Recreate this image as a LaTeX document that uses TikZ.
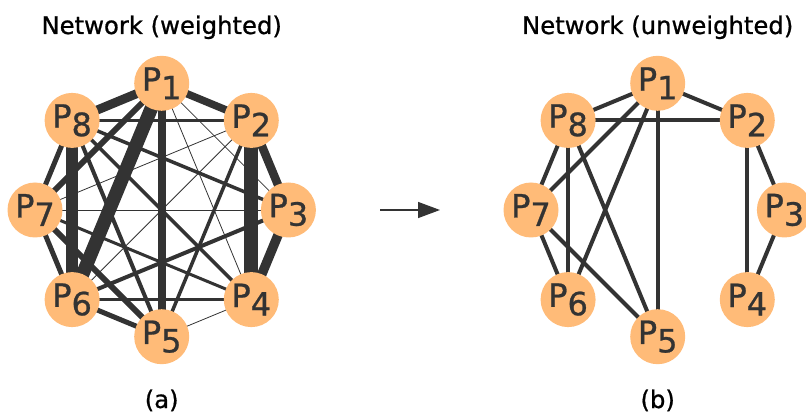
\documentclass[tikz,border=0pt]{standalone}
\usepackage{fontspec}
\setmainfont{DejaVu Sans}
\newfontfamily\heavyfont{DejaVu Sans}[FakeBold=0.8]
\usetikzlibrary{arrows.meta,backgrounds}
\definecolor{nodefill}{HTML}{FFBB78}
\definecolor{edgecol}{HTML}{333333}
\newcommand\plab[1]{P\raisebox{-8.5pt}{#1}}
\begin{document}
\begin{tikzpicture}[x=1pt,y=-1pt,
  pnode/.style={circle,fill=nodefill,minimum size=55pt,inner sep=0pt,text=edgecol,font=\heavyfont\fontsize{32}{32}\selectfont},
  wedge/.style={draw=edgecol,line width=#1},
  uedge/.style={draw=edgecol,line width=4pt},
  title/.style={font=\heavyfont\fontsize{24.3}{24.3}\selectfont,anchor=base},
  sublab/.style={font=\heavyfont\fontsize{24.3}{24.3}\selectfont,anchor=base}]
\useasboundingbox (0,0) rectangle (806,414);
% ---------- weighted network ----------
\node[pnode] (a1) at (161.7,83.3) {\plab{1}};
\node[pnode] (a2) at (251.3,120.4) {\plab{2}};
\node[pnode] (a3) at (288.4,210) {\plab{3}};
\node[pnode] (a4) at (251.3,299.6) {\plab{4}};
\node[pnode] (a5) at (161.7,336.7) {\plab{5}};
\node[pnode] (a6) at (72.1,299.6) {\plab{6}};
\node[pnode] (a7) at (35,210) {\plab{7}};
\node[pnode] (a8) at (72.1,120.4) {\plab{8}};
\begin{pgfonlayer}{background}
\draw[wedge=7.5pt] (a1.center) -- (a2.center);
\draw[wedge=0.8pt] (a1.center) -- (a3.center);
\draw[wedge=0.8pt] (a1.center) -- (a4.center);
\draw[wedge=8pt] (a1.center) -- (a5.center);
\draw[wedge=13.5pt] (a1.center) -- (a6.center);
\draw[wedge=6pt] (a1.center) -- (a7.center);
\draw[wedge=9pt] (a1.center) -- (a8.center);
\draw[wedge=8.5pt] (a2.center) -- (a3.center);
\draw[wedge=14pt] (a2.center) -- (a4.center);
\draw[wedge=3.5pt] (a2.center) -- (a5.center);
\draw[wedge=0.8pt] (a2.center) -- (a6.center);
\draw[wedge=0.8pt] (a2.center) -- (a7.center);
\draw[wedge=3pt] (a2.center) -- (a8.center);
\draw[wedge=9.5pt] (a3.center) -- (a4.center);
\draw[wedge=4pt] (a3.center) -- (a6.center);
\draw[wedge=0.8pt] (a3.center) -- (a7.center);
\draw[wedge=3.5pt] (a3.center) -- (a8.center);
\draw[wedge=0.8pt] (a4.center) -- (a5.center);
\draw[wedge=3pt] (a4.center) -- (a6.center);
\draw[wedge=3pt] (a4.center) -- (a7.center);
\draw[wedge=3.5pt] (a4.center) -- (a8.center);
\draw[wedge=5pt] (a5.center) -- (a6.center);
\draw[wedge=6pt] (a5.center) -- (a7.center);
\draw[wedge=4pt] (a5.center) -- (a8.center);
\draw[wedge=5pt] (a6.center) -- (a7.center);
\draw[wedge=12pt] (a6.center) -- (a8.center);
\draw[wedge=5pt] (a7.center) -- (a8.center);
\end{pgfonlayer}
% ---------- unweighted network ----------
\node[pnode] (b1) at (657.7,83.3) {\plab{1}};
\node[pnode] (b2) at (747.3,120.4) {\plab{2}};
\node[pnode] (b3) at (784.4,210) {\plab{3}};
\node[pnode] (b4) at (747.3,299.6) {\plab{4}};
\node[pnode] (b5) at (657.7,336.7) {\plab{5}};
\node[pnode] (b6) at (568.1,299.6) {\plab{6}};
\node[pnode] (b7) at (531,210) {\plab{7}};
\node[pnode] (b8) at (568.1,120.4) {\plab{8}};
\begin{pgfonlayer}{background}
\draw[uedge] (b1.center) -- (b2.center);
\draw[uedge] (b1.center) -- (b5.center);
\draw[uedge] (b1.center) -- (b6.center);
\draw[uedge] (b1.center) -- (b7.center);
\draw[uedge] (b1.center) -- (b8.center);
\draw[uedge] (b2.center) -- (b3.center);
\draw[uedge] (b2.center) -- (b4.center);
\draw[uedge] (b2.center) -- (b8.center);
\draw[uedge] (b3.center) -- (b4.center);
\draw[uedge] (b5.center) -- (b7.center);
\draw[uedge] (b5.center) -- (b8.center);
\draw[uedge] (b6.center) -- (b7.center);
\draw[uedge] (b6.center) -- (b8.center);
\draw[uedge] (b7.center) -- (b8.center);
\end{pgfonlayer}
% ---------- titles, labels, arrow ----------
\node[title] (t1) at (161.7,34) {Network (weighted)};
\node[title] (t2) at (657.7,34) {Network (unweighted)};
\node[sublab] (la) at (161.7,408) {(a)};
\node[sublab] (lb) at (657.7,408) {(b)};
\coordinate (arrS) at (380,210);
\coordinate (arrE) at (440,210);
\draw[draw=edgecol,line width=1.5pt,-{Triangle[length=22pt,width=16pt]}] (arrS) -- (arrE);
\end{tikzpicture}
\end{document}
